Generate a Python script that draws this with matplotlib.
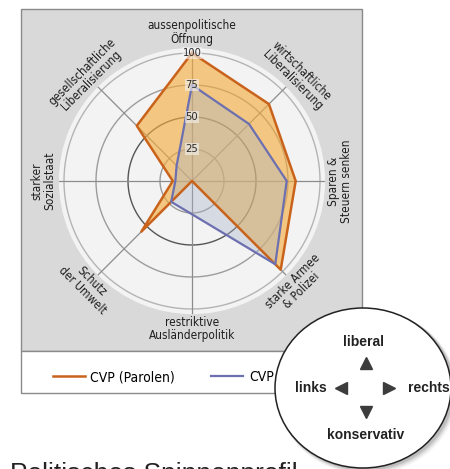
import numpy as np
import matplotlib
matplotlib.use("Agg")
from matplotlib import pyplot as plt
from matplotlib.patches import Rectangle, Ellipse

# Spinnenprofil: acht Achsen, im Uhrzeigersinn ab oben
achsen = ["aussenpolitische\nÖffnung", "wirtschaftliche\nLiberalisierung",
          "Sparen &\nSteuern senken", "starke Armee\n& Polizei",
          "restriktive\nAusländerpolitik", "Schutz\nder Umwelt",
          "starker\nSozialstaat", "gesellschaftliche\nLiberalisierung"]
parolen = [100, 85, 81, 98, 0, 56, 15, 61]
vergleich = [75, 63, 74, 92, 26, 23, 13, 17]
ringe = [25, 50, 75, 100]
legende = ["CVP (Parolen)", "CVP"]

W, H = 450, 469
cx, cy = 192, 181          # Mittelpunkt in Pixeln
px_per_unit = 1.28
rmax = 104
R = rmax * px_per_unit

cond = dict(family="DejaVu Sans", stretch="condensed")
sans = ["Liberation Sans", "DejaVu Sans"]

fig = plt.figure(figsize=(W / 100, H / 100), dpi=100)
fig.patch.set_facecolor("white")

# Hintergrund: grauer Kasten mit Legendenstreifen
bg = fig.add_axes([0, 0, 1, 1])
bg.set_xlim(0, W)
bg.set_ylim(H, 0)
bg.axis("off")
bg.add_patch(Rectangle((21, 9), 341, 342, facecolor="#d9d9d9", edgecolor="#8a8a8a", lw=1))
bg.add_patch(Rectangle((21, 351), 341, 42, facecolor="white", edgecolor="#8a8a8a", lw=1))
bg.text(10, 462, "Politisches Spinnenprofil", fontsize=19, family=sans,
        color="#222222", va="top", ha="left")

# Radar
ax = fig.add_axes([(cx - R) / W, (H - cy - R) / H, 2 * R / W, 2 * R / H], projection="polar")
ax.set_theta_zero_location("N")
ax.set_theta_direction(-1)
ax.set_ylim(0, rmax)
ax.set_facecolor("#f3f3f3")
ax.spines["polar"].set_visible(False)
ax.grid(False)
ax.set_xticks([])
ax.set_yticks([])

n = len(achsen)
winkel = np.arange(n) * 2 * np.pi / n
kreis = np.linspace(0, 2 * np.pi, 361)

ring_farben = {25: "#9a9a9a", 50: "#555555", 75: "#9c9c9c", 100: "#b4b4b4"}
for r in ringe:
    ax.plot(kreis, np.full_like(kreis, r), color=ring_farben[r], lw=1.0, zorder=1)
for w in winkel:
    ax.plot([w, w], [0, rmax], color="#8c8c8c", lw=0.9, zorder=1)

th = np.append(winkel, winkel[0])
p = np.append(parolen, parolen[0])
v = np.append(vergleich, vergleich[0])
ax.fill(th, p, color="#f4ad3c", alpha=0.62, lw=0, zorder=2)
ax.fill(th, v, color="#a9b2c8", alpha=0.38, lw=0, zorder=3)
l1, = ax.plot(th, p, color="#c9631c", lw=1.8, zorder=4)
l2, = ax.plot(th, v, color="#6c6fb0", lw=1.6, zorder=4)

for r in ringe:
    ax.text(0, r, str(r), fontsize=8, color="#2a2a2a", ha="center",
            va="center", zorder=5, **cond,
            bbox=dict(boxstyle="square,pad=0.05", fc="#f3f3f3", ec="none", alpha=0.6))

for w, name in zip(winkel, achsen):
    rot = -np.degrees(w)
    while rot <= -90:
        rot += 180
    while rot > 90:
        rot -= 180
    ax.text(w, 116, name, fontsize=8.5, color="#1e1e1e", ha="center",
            va="center", rotation=rot, rotation_mode="anchor", linespacing=1.0,
            clip_on=False, **cond)

fig.legend([l1, l2], legende, loc="center left", bbox_to_anchor=(53 / W, 1 - 377 / H),
           ncol=2, frameon=False, borderpad=0, borderaxespad=0, handlelength=2.3,
           handletextpad=0.4, columnspacing=2.6,
           prop=dict(family="DejaVu Sans", stretch="condensed", size=10))

# Orientierungskreis
top = fig.add_axes([0, 0, 1, 1], zorder=5)
top.set_xlim(0, W)
top.set_ylim(H, 0)
top.axis("off")
top.patch.set_alpha(0)
for i, a in enumerate([0.06, 0.08, 0.12, 0.18]):
    d = 5 - i
    top.add_patch(Ellipse((364 + d * 0.6, 388 + d * 0.8), 176 + d, 160 + d,
                          facecolor="#555555", edgecolor="none", alpha=a))
top.add_patch(Ellipse((363, 388), 176, 160, facecolor="white", edgecolor="#222222", lw=1.1))
txt = dict(fontsize=10, weight="bold", family=sans, ha="center", va="center", color="#222222")
top.text(364, 342, "liberal", **txt)
top.text(366, 435, "konservativ", **txt)
top.text(311, 388, "links", **txt)
top.text(429, 388, "rechts", **txt)
for (x, y, m) in [(366, 363, "^"), (366, 412, "v"), (341, 388, "<"), (389, 388, ">")]:
    top.plot(x, y, marker=m, markersize=9, color="#3c3c3c", lw=0)

fig.savefig("out.png", dpi=100, facecolor="white")
